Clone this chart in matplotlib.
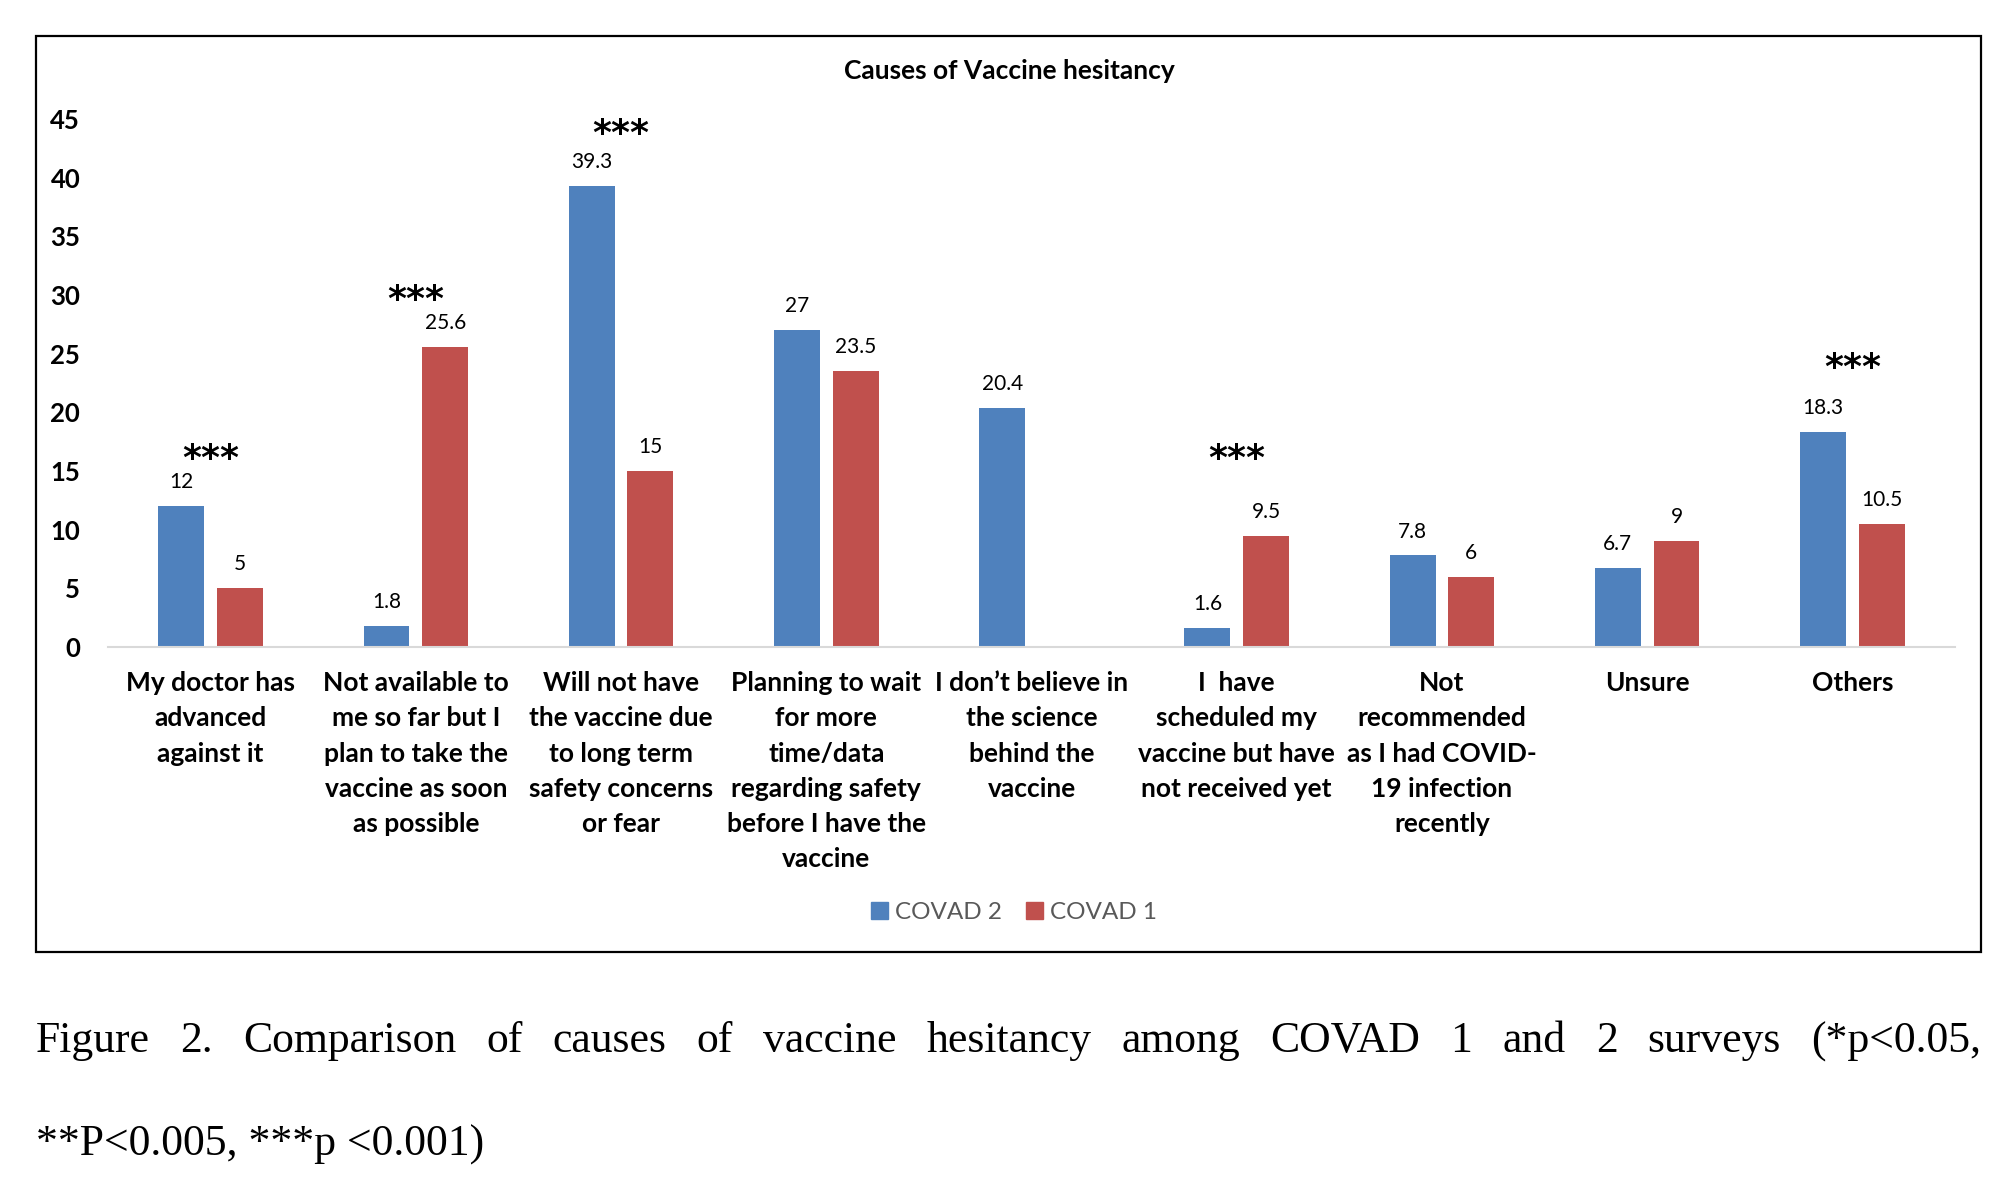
import matplotlib
matplotlib.use("Agg")
import matplotlib.pyplot as plt
import numpy as np
from matplotlib.patches import Rectangle, Patch

categories = [
    "My doctor has\nadvanced\nagainst it",
    "Not available to\nme so far but I\nplan to take the\nvaccine as soon\nas possible",
    "Will not have\nthe vaccine due\nto long term\nsafety concerns\nor fear",
    "Planning to wait\nfor more\ntime/data\nregarding safety\nbefore I have the\nvaccine",
    "I don\u2019t believe in\nthe science\nbehind the\nvaccine",
    "I  have\nscheduled my\nvaccine but have\nnot received yet",
    "Not\nrecommended\nas I had COVID-\n19 infection\nrecently",
    "Unsure",
    "Others",
]
covad2 = [12, 1.8, 39.3, 27, 20.4, 1.6, 7.8, 6.7, 18.3]
covad1 = [5, 25.6, 15, 23.5, np.nan, 9.5, 6, 9, 10.5]
series_names = ["COVAD 2", "COVAD 1"]
star_cats = [0, 1, 2, 5, 8]
star_y = [16.0, 29.6, 43.7, 16.0, 23.8]
yticks = [0, 5, 10, 15, 20, 25, 30, 35, 40, 45]

blue = "#4F81BD"
red = "#C0504D"
FONT = "Lato"

fig = plt.figure(figsize=(20, 11.81), dpi=100)
ax = fig.add_axes([0.054, 0.4522, 0.9235, 0.447])

x = np.arange(len(categories))
bw = 0.224
off = 0.143
ax.bar(x - off, covad2, bw, color=blue)
ax.bar(x + off, covad1, bw, color=red)

for xi, v in zip(x, covad2):
    ax.annotate(f"{v:g}", (xi - off, v), xytext=(0, 10), textcoords="offset points",
                ha="center", va="bottom", fontsize=15, family=FONT, color="#000000")
for xi, v in zip(x, covad1):
    if np.isnan(v):
        continue
    ax.annotate(f"{v:g}", (xi + off, v), xytext=(0, 10), textcoords="offset points",
                ha="center", va="bottom", fontsize=15, family=FONT, color="#000000")
for c, yv in zip(star_cats, star_y):
    ax.text(c, yv, "***", ha="center", va="center", fontsize=26, fontweight="bold",
            family="DejaVu Sans")

ax.set_xlim(-0.5, len(categories) - 0.5)
ax.set_ylim(0, 45)
ax.set_yticks(yticks)
ax.set_yticklabels([str(t) for t in yticks], fontsize=18.5, fontweight="bold", family=FONT)
ax.set_xticks(x)
ax.set_xticklabels(categories, fontsize=19, fontweight="bold", family=FONT, linespacing=1.56,
                   va="top")
ax.tick_params(axis="both", length=0)
ax.tick_params(axis="y", pad=20)
ax.tick_params(axis="x", pad=17.5)
for s in ["top", "right", "left"]:
    ax.spines[s].set_visible(False)
ax.spines["bottom"].set_color("#D9D9D9")
ax.spines["bottom"].set_linewidth(1.5)

fig.text(0.5045, 0.94, "Causes of Vaccine hesitancy", ha="center", va="center",
         fontsize=19, fontweight="bold", family=FONT)

handles = [Patch(color=blue), Patch(color=red)]
leg = fig.legend(handles, series_names, loc="center", bbox_to_anchor=(0.507, 0.227),
                 ncol=2, frameon=False, handlelength=0.7, handleheight=0.7,
                 handletextpad=0.3, columnspacing=1.0, prop={"family": FONT, "size": 17.5})
for t in leg.get_texts():
    t.set_color("#595959")

fig.patches.append(Rectangle((0.018, 0.194), 0.9725, 0.7755, transform=fig.transFigure,
                             fill=False, edgecolor="#000000", linewidth=1.6))

# justified caption line
line1 = "Figure 2. Comparison of causes of vaccine hesitancy among COVAD 1 and 2 surveys (*p<0.05,"
line2 = "**P<0.005, ***p <0.001)"
cap_font = dict(fontsize=31.5, family="Liberation Serif", va="baseline")
fig.canvas.draw()
r = fig.canvas.get_renderer()
words = line1.split(" ")
left, right = 0.018, 0.9905
texts = [fig.text(0, 0.109, w, ha="left", **cap_font) for w in words]
widths = [t.get_window_extent(r).width / fig.bbox.width for t in texts]
gap = (right - left - sum(widths)) / (len(words) - 1)
pos = left
for t, w in zip(texts, widths):
    t.set_x(pos)
    pos += w + gap
fig.text(left, 0.022, line2, ha="left", **cap_font)

fig.savefig("out.png", dpi=100, facecolor="white")
